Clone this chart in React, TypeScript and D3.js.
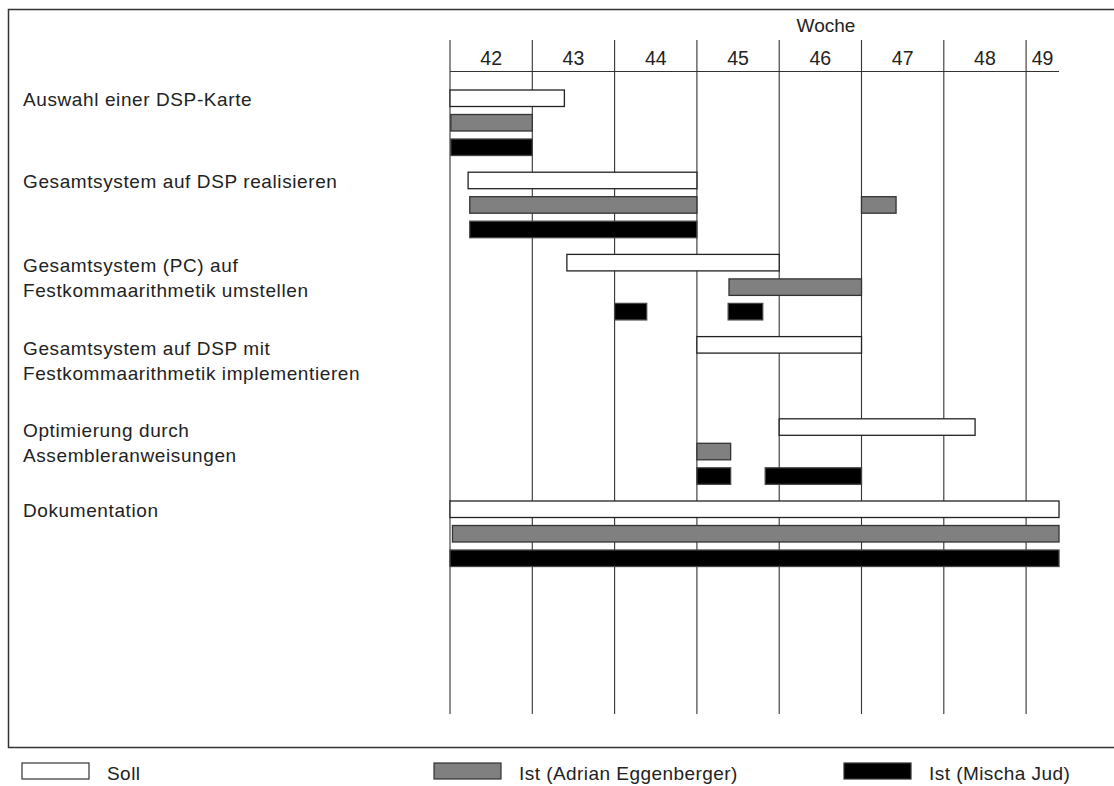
import React from "react";
import * as d3 from "d3";

const weeks = [42, 43, 44, 45, 46, 47, 48, 49];
const weekEnd = 49.4;

const taskLabels: string[][] = [
  ["Auswahl einer DSP-Karte"],
  ["Gesamtsystem auf DSP realisieren"],
  ["Gesamtsystem (PC) auf", "Festkommaarithmetik umstellen"],
  ["Gesamtsystem auf DSP mit", "Festkommaarithmetik implementieren"],
  ["Optimierung durch", "Assembleranweisungen"],
  ["Dokumentation"],
];

// [task index, start week, end week]
const sollBars: [number, number, number][] = [
  [0, 42.0, 43.39],
  [1, 42.22, 45.0],
  [2, 43.42, 46.0],
  [3, 45.0, 47.0],
  [4, 46.0, 48.38],
  [5, 42.0, 49.4],
];

const adrianBars: [number, number, number][] = [
  [0, 42.01, 43.0],
  [1, 42.24, 45.0],
  [1, 47.0, 47.42],
  [2, 45.39, 47.0],
  [4, 45.0, 45.41],
  [5, 42.03, 49.4],
];

const mischaBars: [number, number, number][] = [
  [0, 42.01, 43.0],
  [1, 42.24, 45.0],
  [2, 44.0, 44.39],
  [2, 45.38, 45.8],
  [4, 45.0, 45.41],
  [4, 45.83, 47.0],
  [5, 42.0, 49.4],
];

const legendItems = [
  { label: "Soll", fill: "#ffffff" },
  { label: "Ist (Adrian Eggenberger)", fill: "#808080" },
  { label: "Ist (Mischa Jud)", fill: "#000000" },
];

const W = 1114;
const H = 786;
const FONT = "'Liberation Sans', Arial, Helvetica, sans-serif";

export default function App() {
  const x = d3.scaleLinear().domain([42, 50]).range([450, 450 + 8 * 82.3]);
  const rowY = d3.scaleLinear().domain([0, 1]).range([90, 172.2]);
  const barH = 16.5;
  const series = [
    { data: sollBars, fill: "#ffffff", stroke: "#222", off: 0 },
    { data: adrianBars, fill: "#808080", stroke: "#333", off: 24.5 },
    { data: mischaBars, fill: "#000000", stroke: "#444", off: 49 },
  ];
  const legendX = [22, 434, 844];

  return (
    <div style={{ position: "absolute", left: 0, top: 0 }}>
      <svg width={W} height={H} style={{ display: "block", background: "#fff" }}>
        {/* frame */}
        <path d={`M${W + 2},9.5 H8.5 V747.5 H${W + 2}`} fill="none" stroke="#333" strokeWidth={1.5} />

        {/* header */}
        <text x={826} y={32} fontFamily={FONT} fontSize={19} textAnchor="middle" fill="#222">
          Woche
        </text>
        {weeks.map((w) => (
          <text
            key={w}
            x={(x(w) + x(Math.min(w + 1, weekEnd))) / 2}
            y={65}
            fontFamily={FONT}
            fontSize={19.5}
            textAnchor="middle"
            fill="#222"
          >
            {w}
          </text>
        ))}
        <line x1={x(42)} x2={x(weekEnd)} y1={71.5} y2={71.5} stroke="#333" strokeWidth={1.2} />
        {weeks.map((w) => (
          <line key={w} x1={x(w)} x2={x(w)} y1={40} y2={714} stroke="#333" strokeWidth={1.1} />
        ))}

        {/* task labels */}
        {taskLabels.map((lines, i) => (
          <text key={i} fontFamily={FONT} fontSize={19} letterSpacing={0.6} fill="#222">
            {lines.map((l, j) => (
              <tspan key={j} x={23} y={rowY(i) + (lines.length > 1 ? 18 : 16) + j * 25}>
                {l}
              </tspan>
            ))}
          </text>
        ))}

        {/* bars */}
        {series.map((s, si) =>
          s.data.map(([t, a, b], k) => (
            <rect
              key={`${si}-${k}`}
              x={x(a)}
              y={rowY(t) + s.off}
              width={x(b) - x(a)}
              height={barH}
              fill={s.fill}
              stroke={s.stroke}
              strokeWidth={1.3}
            />
          ))
        )}

        {/* legend */}
        {legendItems.map((it, i) => (
          <g key={i}>
            <rect x={legendX[i]} y={763} width={67} height={16} fill={it.fill} stroke="#333" strokeWidth={1.2} />
            <text x={legendX[i] + 85} y={780} fontFamily={FONT} fontSize={19} letterSpacing={0.45} fill="#222">
              {it.label}
            </text>
          </g>
        ))}
      </svg>
    </div>
  );
}
